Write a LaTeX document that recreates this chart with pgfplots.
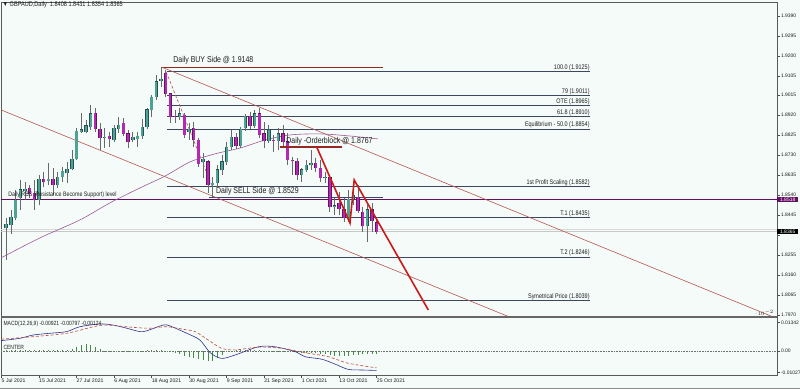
\documentclass[border=0pt]{standalone}
\usepackage{pgfplots}
\pgfplotsset{compat=1.18}
\usepackage{pgfplotstable}
\usepackage{fontspec}
\setmainfont{Liberation Sans}
\newcommand\fs[1]{\fontsize{#1}{#1}\selectfont}
\newcommand\tall[1]{\scalebox{1}[1.22]{#1}}
\definecolor{bg}{RGB}{244,251,248}
\definecolor{bullfill}{RGB}{76,163,150}
\definecolor{bullline}{RGB}{40,80,80}
\definecolor{bearfill}{RGB}{180,40,180}
\definecolor{bearline}{RGB}{100,20,100}
\definecolor{wick}{RGB}{105,105,105}
\definecolor{fib}{RGB}{60,70,95}
\definecolor{chan}{RGB}{185,85,85}
\definecolor{dred}{RGB}{150,40,35}
\definecolor{zig}{RGB}{205,25,25}
\definecolor{rbs}{RGB}{100,15,100}
\definecolor{ma}{RGB}{160,90,150}
\definecolor{macdc}{RGB}{50,50,140}
\definecolor{sigc}{RGB}{190,70,60}
\definecolor{histc}{RGB}{70,140,70}
\definecolor{txt}{RGB}{30,30,30}

\pgfplotstableread{
i o h l c
1 1.8383 1.8431 1.8231 1.8402
2 1.8397 1.8469 1.8355 1.8435
3 1.8431 1.8564 1.8421 1.8516
4 1.8526 1.8611 1.8469 1.8564
5 1.8559 1.8602 1.8516 1.8568
8 1.8516 1.8635 1.8492 1.8616
10 1.8606 1.8692 1.8587 1.8616
12 1.8587 1.8649 1.8573 1.8625
13 1.8625 1.8673 1.8602 1.8654
14 1.8644 1.8697 1.8597 1.8663
15 1.8663 1.8754 1.8659 1.8711
16 1.8711 1.8858 1.8706 1.8844
17 1.8839 1.8929 1.8834 1.8849
18 1.8839 1.8896 1.8834 1.8868
19 1.8863 1.8967 1.8849 1.8925
22 1.8811 1.8858 1.8763 1.8815
24 1.8801 1.8872 1.8792 1.8858
25 1.8853 1.8910 1.8834 1.8872
28 1.8801 1.8839 1.8792 1.8815
29 1.8806 1.8839 1.8768 1.8820
30 1.8820 1.8901 1.8806 1.8863
31 1.8863 1.8953 1.8853 1.8944
32 1.8944 1.9015 1.8910 1.9005
33 1.9005 1.9110 1.8991 1.9077
34 1.9081 1.9148 1.9053 1.9091
38 1.8910 1.8953 1.8896 1.8925
40 1.8839 1.8882 1.8801 1.8853
43 1.8697 1.8739 1.8621 1.8711
45 1.8587 1.8625 1.8529 1.8597
46 1.8597 1.8682 1.8578 1.8659
47 1.8659 1.8730 1.8635 1.8697
48 1.8697 1.8792 1.8682 1.8768
49 1.8768 1.8849 1.8754 1.8815
51 1.8773 1.8863 1.8763 1.8853
52 1.8858 1.8925 1.8844 1.8915
54 1.8868 1.8944 1.8858 1.8925
57 1.8796 1.8872 1.8787 1.8849
59 1.8796 1.8858 1.8754 1.8830
64 1.8635 1.8668 1.8602 1.8659
65 1.8659 1.8706 1.8649 1.8682
66 1.8682 1.8754 1.8659 1.8692
69 1.8621 1.8649 1.8597 1.8625
71 1.8483 1.8526 1.8445 1.8488
74 1.8426 1.8564 1.8412 1.8521
75 1.8521 1.8597 1.8492 1.8540
78 1.8393 1.8492 1.8317 1.8469
}\bull

\pgfplotstableread{
i o h l c
6 1.8573 1.8587 1.8526 1.8545
7 1.8549 1.8611 1.8469 1.8516
9 1.8616 1.8649 1.8578 1.8602
11 1.8616 1.8668 1.8540 1.8587
20 1.8929 1.8953 1.8839 1.8853
21 1.8853 1.8882 1.8754 1.8811
23 1.8820 1.8839 1.8768 1.8806
26 1.8882 1.8906 1.8820 1.8830
27 1.8830 1.8849 1.8763 1.8792
35 1.9119 1.9134 1.9005 1.9020
36 1.9020 1.9024 1.8882 1.8910
37 1.8915 1.8944 1.8882 1.8910
39 1.8920 1.8929 1.8811 1.8825
41 1.8858 1.8887 1.8768 1.8801
42 1.8801 1.8811 1.8673 1.8687
44 1.8697 1.8706 1.8549 1.8587
50 1.8815 1.8834 1.8758 1.8773
53 1.8915 1.8934 1.8853 1.8868
55 1.8925 1.8953 1.8811 1.8825
56 1.8830 1.8887 1.8763 1.8796
58 1.8801 1.8825 1.8744 1.8796
60 1.8830 1.8872 1.8763 1.8792
61 1.8792 1.8834 1.8682 1.8706
62 1.8706 1.8720 1.8635 1.8701
63 1.8701 1.8716 1.8611 1.8635
67 1.8692 1.8716 1.8649 1.8668
68 1.8668 1.8706 1.8602 1.8621
70 1.8625 1.8635 1.8459 1.8483
72 1.8502 1.8554 1.8445 1.8473
73 1.8473 1.8526 1.8412 1.8431
76 1.8530 1.8587 1.8454 1.8464
77 1.8459 1.8483 1.8364 1.8393
79 1.8469 1.8502 1.8364 1.8416
80 1.8408 1.8431 1.8354 1.8365
}\bear

\pgfplotstableread{
i v
0 0.0004
1 0.0004
2 0.0005
3 0.0004
4 0.0004
5 0.0005
6 0.0004
7 0.0004
8 0.0005
9 0.0004
10 0.0004
11 0.0004
12 0.0005
13 0.0006
14 0.0007
15 0.0010
16 0.0019
17 0.0028
18 0.0033
19 0.0028
20 0.0019
21 0.0009
22 0.0002
23 -0.0002
24 -0.0004
25 -0.0005
26 -0.0005
27 -0.0004
28 -0.0003
29 -0.0002
30 0.0001
31 0.0003
32 0.0004
33 0.0004
34 0.0003
35 0.0001
36 -0.0005
37 -0.0009
38 -0.0014
39 -0.0024
40 -0.0028
41 -0.0033
42 -0.0038
43 -0.0043
44 -0.0047
45 -0.0047
46 -0.0033
47 -0.0019
48 -0.0005
49 0.0001
50 0.0003
51 0.0004
52 0.0005
53 0.0005
54 0.0004
55 0.0003
56 0.0002
57 0.0001
58 0.0001
59 0.0001
60 -0.0002
61 -0.0004
62 -0.0006
63 -0.0008
64 -0.0009
65 -0.0010
66 -0.0010
67 -0.0011
68 -0.0014
69 -0.0015
70 -0.0019
71 -0.0022
72 -0.0024
73 -0.0024
74 -0.0022
75 -0.0019
76 -0.0017
77 -0.0015
78 -0.0014
79 -0.0013
80 -0.0012
}\hist

\begin{document}
\begin{tikzpicture}
\path[use as bounding box] (0,0) rectangle (800bp,389bp);
\fill[bg] (0,0) rectangle (800bp,389bp);

\begin{axis}[
  at={(1bp,72bp)}, anchor=south west, scale only axis,
  width=776bp, height=315bp,
  xmin=-0.107, xmax=165.35, ymin=1.796025, ymax=1.94565,
  axis background/.style={fill=bg},
  axis line style={draw=black!65, line width=0.6bp},
  clip mode=individual,
  xtick=\empty,
  ytick={1.9390,1.9295,1.9200,1.9105,1.9015,1.8920,1.8825,1.8730,1.8635,1.8540,1.8445,1.8350,1.8255,1.8160,1.8065,1.7970},
  yticklabels={1.9390,1.9295,1.9200,1.9105,1.9015,1.8920,1.8825,1.8730,1.8635,1.8540,1.8445,{},1.8255,1.8160,1.8065,1.7970},
  ytick pos=right, yticklabel pos=right, tick align=outside,
  major tick length=3bp, tick style={black!70, line width=0.5bp},
  yticklabel style={font=\fs{5}, inner sep=0.8bp, text=txt},
]
% bid/ask lines
\addplot[black!22, line width=0.6bp] coordinates {(-0.107,1.8365) (165.35,1.8365)};
\addplot[black!15, line width=0.6bp] coordinates {(-0.107,1.8377) (165.35,1.8377)};
% fibonacci levels
\addplot[fib, line width=0.6bp] coordinates {(35.3,1.9125) (125.5,1.9125)};
\addplot[fib, line width=0.6bp] coordinates {(35.3,1.9011) (125.5,1.9011)};
\addplot[fib, line width=0.6bp] coordinates {(35.3,1.8965) (125.5,1.8965)};
\addplot[fib, line width=0.6bp] coordinates {(35.3,1.8915) (125.5,1.8915)};
\addplot[fib, line width=0.6bp] coordinates {(35.3,1.8854) (125.5,1.8854)};
\addplot[fib, line width=0.6bp] coordinates {(35.3,1.8582) (125.5,1.8582)};
\addplot[fib, line width=0.6bp] coordinates {(35.3,1.8435) (125.5,1.8435)};
\addplot[fib, line width=0.6bp] coordinates {(35.3,1.8246) (125.5,1.8246)};
\addplot[fib, line width=0.6bp] coordinates {(35.3,1.8039) (125.5,1.8039)};
% buy / sell side lines
\addplot[dred, line width=0.7bp] coordinates {(34.2,1.9148) (81.3,1.9148)};
\addplot[fib, line width=0.6bp] coordinates {(44.2,1.8529) (81.3,1.8529)};
% RBS level
\addplot[rbs, line width=0.9bp] coordinates {(-0.107,1.8518) (165.35,1.8518)};
% channel
\addplot[chan, line width=0.6bp] coordinates {(34.3,1.9146) (165.35,1.7953)};
\addplot[chan, line width=0.6bp] coordinates {(-0.107,1.8944) (110,1.7945)};
% fib trend line
\addplot[chan, line width=0.6bp, densely dashed] coordinates {(35.1,1.9125) (44.9,1.8582)};
% moving average
\addplot[ma, line width=0.6bp, smooth] coordinates {(-0.107,1.8241) (8.2,1.8336) (16.7,1.8421) (23.1,1.8502) (29.5,1.8573) (34.9,1.8630) (40.2,1.8697) (45.5,1.8735) (50.9,1.8763) (56.2,1.8801) (61.5,1.8825) (67.9,1.8830) (74.3,1.8820) (80.3,1.8806)};
% wicks
\addplot[draw=none, mark=none, error bars/.cd, y dir=plus, y explicit, error mark=none,
  error bar style={draw=wick, line width=0.7bp}]
  table[x=i, y=l, y error expr=\thisrow{h}-\thisrow{l}] {\bull};
\addplot[draw=none, mark=none, error bars/.cd, y dir=plus, y explicit, error mark=none,
  error bar style={draw=wick, line width=0.7bp}]
  table[x=i, y=l, y error expr=\thisrow{h}-\thisrow{l}] {\bear};
% bodies
\addplot[draw=none, mark=none, error bars/.cd, y dir=plus, y explicit, error mark=none,
  error bar style={draw=bullline, line width=3.4bp}]
  table[x=i, y expr=\thisrow{o}-0.0002, y error expr=\thisrow{c}-\thisrow{o}+0.0004] {\bull};
\addplot[draw=none, mark=none, error bars/.cd, y dir=plus, y explicit, error mark=none,
  error bar style={draw=bullfill, line width=2.2bp}]
  table[x=i, y=o, y error expr=\thisrow{c}-\thisrow{o}] {\bull};
\addplot[draw=none, mark=none, error bars/.cd, y dir=plus, y explicit, error mark=none,
  error bar style={draw=bearline, line width=3.4bp}]
  table[x=i, y expr=\thisrow{c}-0.0002, y error expr=\thisrow{o}-\thisrow{c}+0.0004] {\bear};
\addplot[draw=none, mark=none, error bars/.cd, y dir=plus, y explicit, error mark=none,
  error bar style={draw=bearfill, line width=2.2bp}]
  table[x=i, y=c, y error expr=\thisrow{o}-\thisrow{c}] {\bear};
% orderblock and zigzag
\addplot[dred, line width=1.5bp] coordinates {(59.4,1.8767) (72.6,1.8767)};
\addplot[zig, line width=1.6bp] coordinates {(67.2,1.8768) (74.3,1.8407) (75.2,1.8611) (91.0,1.7994)};

% labels
\node[anchor=west, font=\fs{5.6}, text=txt, inner sep=0] at (axis cs:0.2,1.9442) {\tall{▼ GBPAUD,Daily\ \ 1.8408 1.8431 1.8354 1.8365}};
\node[anchor=west, font=\fs{7}, text=txt, inner sep=0] at (axis cs:36.6,1.9178) {\tall{Daily BUY Side @ 1.9148}};
\node[anchor=west, font=\fs{7}, text=txt, inner sep=0] at (axis cs:45.7,1.8559) {\tall{Daily SELL Side @ 1.8529}};
\node[anchor=west, font=\fs{7}, text=txt, inner sep=0] at (axis cs:60.7,1.8794) {\tall{Daily -Orderblock @ 1.8767}};
\node[anchor=west, font=\fs{5.3}, text=txt, inner sep=0] at (axis cs:1.4,1.8541) {\tall{Daily RBS (Resistance Become Support) level}};
\node[anchor=south east, font=\fs{5.5}, text=txt, inner sep=0.3bp] at (axis cs:125.5,1.9125) {\tall{100.0 (1.9125)}};
\node[anchor=south east, font=\fs{5.5}, text=txt, inner sep=0.3bp] at (axis cs:125.5,1.9011) {\tall{79 (1.9011)}};
\node[anchor=south east, font=\fs{5.5}, text=txt, inner sep=0.3bp] at (axis cs:125.5,1.8965) {\tall{OTE (1.8965)}};
\node[anchor=south east, font=\fs{5.5}, text=txt, inner sep=0.3bp] at (axis cs:125.5,1.8915) {\tall{61.8 (1.8910)}};
\node[anchor=south east, font=\fs{5.5}, text=txt, inner sep=0.3bp] at (axis cs:125.5,1.8854) {\tall{Equilibrium - 50.0 (1.8854)}};
\node[anchor=south east, font=\fs{5.5}, text=txt, inner sep=0.3bp] at (axis cs:125.5,1.8582) {\tall{1st Profit Scaling (1.8582)}};
\node[anchor=south east, font=\fs{5.5}, text=txt, inner sep=0.3bp] at (axis cs:125.5,1.8435) {\tall{T.1 (1.8435)}};
\node[anchor=south east, font=\fs{5.5}, text=txt, inner sep=0.3bp] at (axis cs:125.5,1.8246) {\tall{T.2 (1.8246)}};
\node[anchor=south east, font=\fs{5.5}, text=txt, inner sep=0.3bp] at (axis cs:125.5,1.8039) {\tall{Symetrical Price (1.8039)}};
% price boxes
\node[anchor=west, fill=rbs, text=white, font=\fs{5}, inner sep=0.8bp, minimum width=21bp] at (axis cs:165.35,1.8518) {1.8518};
\node[anchor=west, fill=black, text=white, font=\fs{5}, inner sep=0.8bp, minimum width=21bp] at (axis cs:165.35,1.8365) {1.8365};
\end{axis}

\begin{axis}[
  at={(1bp,14bp)}, anchor=south west, scale only axis,
  width=776bp, height=58bp,
  xmin=-0.107, xmax=165.35, ymin=-0.011376, ymax=0.016116,
  axis background/.style={fill=bg},
  axis line style={draw=black!65, line width=0.6bp},
  clip mode=individual,
  xtick={0,8,16,24,32,40,48,56,64,72,80},
  xticklabels={5 Jul 2021,15 Jul 2021,27 Jul 2021,6 Aug 2021,18 Aug 2021,30 Aug 2021,9 Sep 2021,21 Sep 2021,1 Oct 2021,13 Oct 2021,25 Oct 2021},
  xtick pos=bottom,
  xticklabel style={anchor=north west, font=\fs{5.2}, inner sep=0.8bp, xshift=-0.8bp, text=txt},
  ytick={0.01342,0,-0.01027},
  yticklabels={0.01342,0.00,-0.01027},
  ytick pos=right, yticklabel pos=right, tick align=outside,
  major tick length=3bp, tick style={black!70, line width=0.5bp},
  yticklabel style={font=\fs{5}, inner sep=0.8bp, text=txt},
]
\addplot[black!55, densely dotted, line width=0.6bp] coordinates {(-0.107,0) (165.35,0)};
\addplot[ycomb, histc, line width=0.6bp] table[x=i, y=v] {\hist};
\addplot[macdc, line width=0.6bp, smooth] coordinates {(-0.1,0.0049) (3.9,0.0060) (6.8,0.0076) (10.3,0.0084) (13.9,0.0092) (16.7,0.0115) (21.0,0.0128) (23.8,0.0123) (26.7,0.0108) (29.5,0.0092) (31.0,0.0096) (34.5,0.0123) (35.9,0.0119) (39.5,0.0084) (42.3,0.0052) (44.5,-0.0008) (46.9,-0.0035) (49.8,-0.0019) (54.8,0.0020) (58.3,0.0020) (62.6,-0.0003) (64.7,-0.0027) (68.3,-0.0039) (71.1,-0.0062) (73.9,-0.0087) (76.8,-0.0090) (80,-0.0092)};
\addplot[sigc, line width=0.6bp, densely dashed, smooth] coordinates {(-0.1,0.0056) (6.8,0.0068) (13.9,0.0084) (19.6,0.0115) (22.4,0.0123) (28.1,0.0112) (31.7,0.0108) (35.2,0.0115) (39.5,0.0100) (41.3,0.0092) (44.1,0.0052) (46.9,0.0013) (49.8,0.0005) (54.8,0.0018) (59.7,0.0013) (64.7,-0.0008) (69.7,-0.0027) (73.9,-0.0058) (80,-0.0080)};
\node[anchor=west, font=\fs{5}, text=txt, inner sep=0] at (axis cs:0.4,0.0130) {\tall{MACD(12,26,9) -0.00921 -0.00797 -0.00124}};
\node[anchor=west, font=\fs{5}, text=txt, inner sep=0] at (axis cs:0.4,0.0017) {\tall{CENTER}};
\end{axis}
\draw[black!60, line width=1.8bp] (1bp,72bp) -- (777bp,72bp);
\draw[black!45, line width=1bp] (0,0.5bp) -- (800bp,0.5bp);
\end{tikzpicture}
\end{document}
